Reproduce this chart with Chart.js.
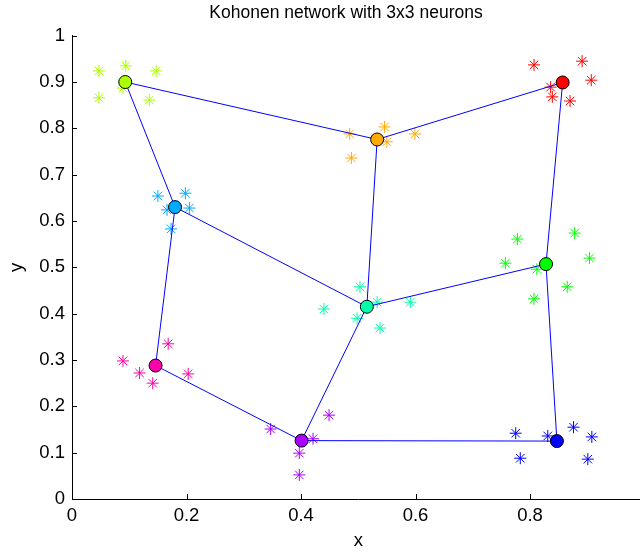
<!DOCTYPE html>
<html><head><meta charset="utf-8">
<script src="https://cdn.jsdelivr.net/npm/chart.js@4/dist/chart.umd.min.js"></script>
<style>html,body{margin:0;padding:0;background:#fff;overflow:hidden;width:640px;height:554px}canvas{display:block}</style>
</head><body><canvas id="c" width="652" height="554"></canvas>
<script>
const chartTitle = 'Kohonen network with 3x3 neurons';
const xTicks = [0, 0.2, 0.4, 0.6, 0.8, 1];
const yTicks = [0, 0.1, 0.2, 0.3, 0.4, 0.5, 0.6, 0.7, 0.8, 0.9, 1];

// neurons, row-major on the 3x3 grid
const neuronColors = ['#aaff00', '#ffaa00', '#ff0000', '#00aaff', '#00ffaa', '#00ff00', '#ff00aa', '#aa00ff', '#0000ff'];
const neuronX = [0.093, 0.533, 0.857, 0.180, 0.515, 0.828, 0.146, 0.401, 0.847];
const neuronY = [0.900, 0.776, 0.899, 0.630, 0.415, 0.507, 0.288, 0.126, 0.125];

// input samples per cluster (same order as neurons)
const limeX = [0.047, 0.094, 0.147, 0.047, 0.135, 0.089];
const limeY = [0.924, 0.935, 0.924, 0.866, 0.861, 0.887];
const orangeX = [0.485, 0.546, 0.599, 0.488, 0.550];
const orangeY = [0.788, 0.803, 0.788, 0.736, 0.771];
const redX = [0.807, 0.891, 0.907, 0.836, 0.839, 0.870];
const redY = [0.937, 0.945, 0.904, 0.889, 0.868, 0.859];
const skyX = [0.150, 0.198, 0.205, 0.166, 0.173];
const skyY = [0.654, 0.660, 0.628, 0.624, 0.583];
const tealX = [0.503, 0.533, 0.591, 0.440, 0.498, 0.538];
const tealY = [0.458, 0.425, 0.425, 0.410, 0.390, 0.369];
const greenX = [0.778, 0.878, 0.904, 0.757, 0.812, 0.865, 0.807];
const greenY = [0.561, 0.574, 0.520, 0.509, 0.496, 0.458, 0.432];
const pinkX = [0.089, 0.168, 0.118, 0.141, 0.203];
const pinkY = [0.298, 0.335, 0.272, 0.250, 0.270];
const purpleX = [0.347, 0.449, 0.421, 0.397, 0.397];
const purpleY = [0.151, 0.181, 0.130, 0.099, 0.052];
const blueX = [0.775, 0.783, 0.831, 0.876, 0.908, 0.901];
const blueY = [0.142, 0.088, 0.136, 0.155, 0.134, 0.086];

const clusterX = [limeX, orangeX, redX, skyX, tealX, greenX, pinkX, purpleX, blueX];
const clusterY = [limeY, orangeY, redY, skyY, tealY, greenY, pinkY, purpleY, blueY];

const toPts = (xs, ys) => xs.map((x, i) => ({x: x, y: ys[i]}));
const datasets = [];
clusterX.forEach((xs, k) => {
  datasets.push({
    type: 'scatter', data: toPts(xs, clusterY[k]), pointStyle: 'star', pointRadius: 6,
    borderColor: neuronColors[k], backgroundColor: neuronColors[k], borderWidth: 1, order: 3
  });
});
// grid links: rows and columns
const links = [[0,1,2],[3,4,5],[6,7,8],[0,3,6],[1,4,7],[2,5,8]];
links.forEach(idx => {
  datasets.push({
    type: 'scatter', showLine: true, data: idx.map(i => ({x: neuronX[i], y: neuronY[i]})),
    borderColor: '#0000ff', borderWidth: 1, pointRadius: 0, fill: false, order: 2
  });
});
datasets.push({
  type: 'scatter', data: toPts(neuronX, neuronY), pointStyle: 'circle', pointRadius: 6.5,
  backgroundColor: neuronColors, borderColor: '#000', borderWidth: 1, order: 1
});

const fontFamily = '"Liberation Sans", Arial, Helvetica, sans-serif';
const fmt = v => String(+Number(v).toFixed(1));

const inwardTicks = {
  id: 'inwardTicks',
  afterLayout(chart) {
    const t = chart.titleBlock;
    if (t) { t.left = 50; t.right = 642; }
  },
  afterDraw(chart) {
    const ctx = chart.ctx, xs = chart.scales.x, ys = chart.scales.y, a = chart.chartArea;
    ctx.save();
    ctx.strokeStyle = '#000'; ctx.lineWidth = 1;
    ctx.beginPath();
    xTicks.forEach(v => {
      const px = Math.round(xs.getPixelForValue(v)) + 0.5;
      ctx.moveTo(px, a.bottom); ctx.lineTo(px, a.bottom - 5);
    });
    yTicks.forEach(v => {
      const py = Math.round(ys.getPixelForValue(v)) + 0.5;
      ctx.moveTo(a.left, py); ctx.lineTo(a.left + 5, py);
    });
    ctx.stroke();
    ctx.restore();
  }
};

new Chart(document.getElementById('c'), {
  data: {datasets: datasets},
  plugins: [inwardTicks],
  options: {
    responsive: false, animation: false, events: [],
    layout: {padding: 0},
    plugins: {
      legend: {display: false}, tooltip: {enabled: false},
      title: {display: true, text: chartTitle, color: '#000',
        font: {family: fontFamily, size: 17.5, weight: 'normal'}, padding: {top: 3, bottom: 11.7}}
    },
    scales: {
      x: {
        type: 'linear', min: 0, max: 1,
        afterBuildTicks: s => { s.ticks = xTicks.map(v => ({value: v})); },
        afterFit: s => { s.height = 55; s.paddingLeft = 0; s.paddingRight = 0; },
        ticks: {color: '#000', padding: 6, maxRotation: 0, autoSkip: false,
          font: {family: fontFamily, size: 18.5}, callback: v => fmt(v)},
        grid: {display: true, drawOnChartArea: false, drawTicks: false},
        border: {display: true, color: '#000', width: 1},
        title: {display: true, text: 'x', color: '#000', font: {family: fontFamily, size: 18.5}, padding: {top: 2, bottom: 2}}
      },
      y: {
        type: 'linear', min: 0, max: 1,
        afterBuildTicks: s => { s.ticks = yTicks.map(v => ({value: v})); },
        afterFit: s => { s.width = 72; s.paddingTop = 0; s.paddingBottom = 0; },
        ticks: {color: '#000', padding: 7, autoSkip: false,
          font: {family: fontFamily, size: 18.5}, callback: v => fmt(v)},
        grid: {display: true, drawOnChartArea: false, drawTicks: false},
        border: {display: true, color: '#000', width: 1},
        title: {display: true, text: 'y', color: '#000', font: {family: fontFamily, size: 18.5}, padding: {top: 6, bottom: 0}}
      }
    }
  }
});
</script>
</body></html>
